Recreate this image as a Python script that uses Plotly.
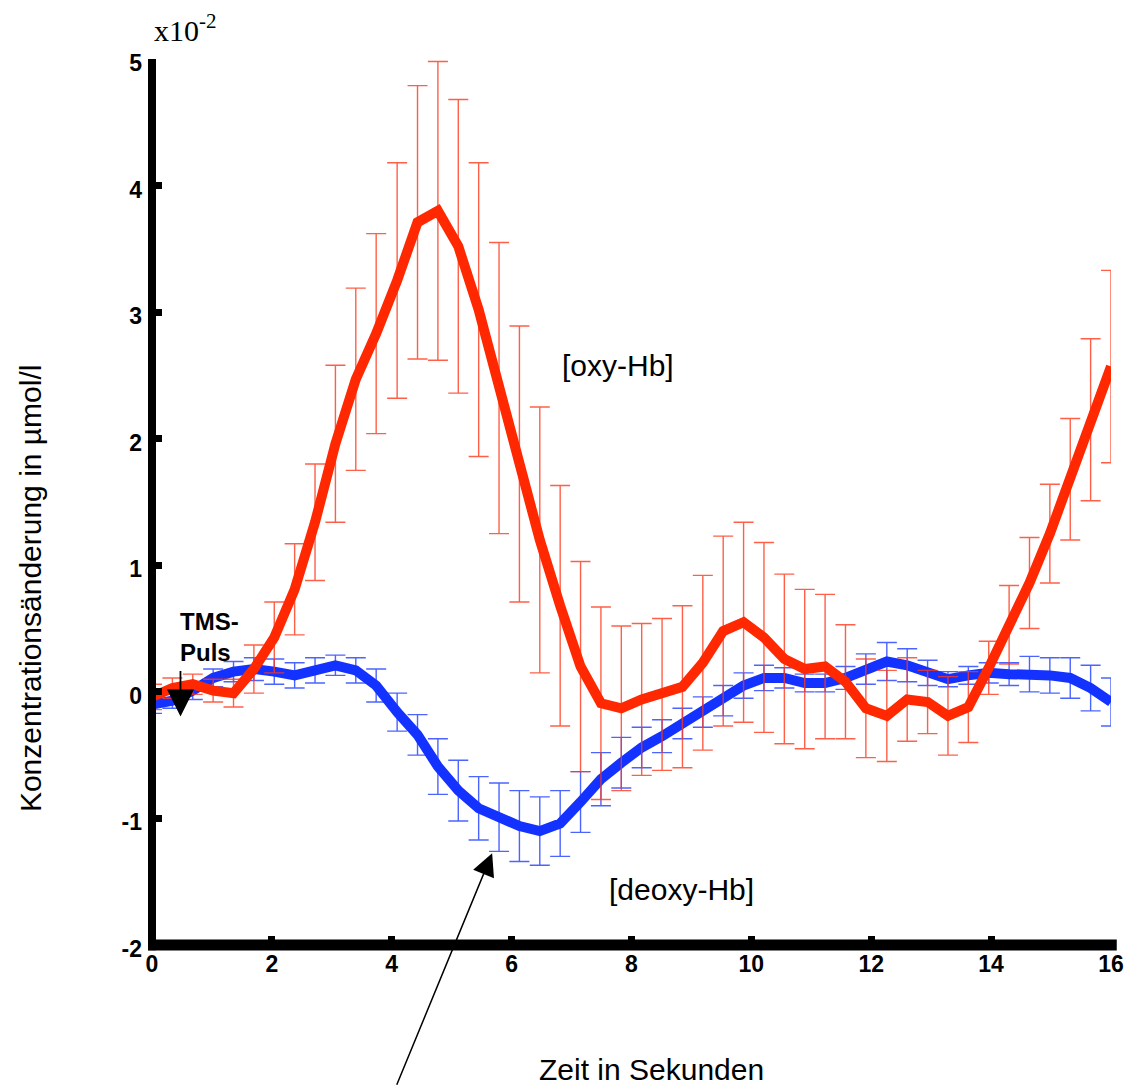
import plotly.graph_objects as go

# sampling times (s)
times = [0.00, 0.34, 0.68, 1.02, 1.36, 1.70, 2.04, 2.38, 2.72, 3.06, 3.40, 3.74,
         4.09, 4.43, 4.77, 5.11, 5.45, 5.79, 6.13, 6.47, 6.81, 7.15, 7.49, 7.83,
         8.17, 8.51, 8.85, 9.19, 9.53, 9.87, 10.21, 10.55, 10.89, 11.23, 11.57, 11.91,
         12.26, 12.60, 12.94, 13.28, 13.62, 13.96, 14.30, 14.64, 14.98, 15.32, 15.66, 16.00]

# [oxy-Hb] (x10^-2 µmol/l)
oxy = [-0.04, 0.03, 0.06, 0.01, -0.01, 0.18, 0.43, 0.81, 1.34, 1.96,
       2.47, 2.83, 3.25, 3.71, 3.80, 3.52, 3.02, 2.40, 1.80, 1.20,
       0.68, 0.20, -0.09, -0.13, -0.06, -0.02, 0.04, 0.23, 0.48, 0.55,
       0.43, 0.26, 0.18, 0.20, 0.08, -0.13, -0.19, -0.06, -0.08, -0.19,
       -0.12, 0.19, 0.53, 0.86, 1.25, 1.68, 2.15, 2.57]
oxy_err = [0.10, 0.08, 0.08, 0.09, 0.11, 0.19, 0.28, 0.36, 0.46, 0.62,
           0.72, 0.79, 0.93, 1.08, 1.18, 1.16, 1.16, 1.15, 1.09, 1.05,
           0.95, 0.83, 0.76, 0.65, 0.60, 0.60, 0.64, 0.69, 0.75, 0.79,
           0.75, 0.67, 0.63, 0.57, 0.45, 0.39, 0.36, 0.33, 0.25, 0.31,
           0.28, 0.21, 0.31, 0.36, 0.39, 0.48, 0.64, 0.76]

# [deoxy-Hb]
deoxy = [-0.10, -0.07, 0.01, 0.11, 0.16, 0.18, 0.16, 0.13, 0.17, 0.21,
         0.17, 0.05, -0.16, -0.34, -0.59, -0.78, -0.92, -0.99, -1.06, -1.10,
         -1.04, -0.87, -0.69, -0.56, -0.44, -0.35, -0.25, -0.16, -0.07, 0.05,
         0.11, 0.11, 0.07, 0.07, 0.11, 0.18, 0.24, 0.21, 0.15, 0.10,
         0.13, 0.15, 0.14, 0.14, 0.13, 0.11, 0.03, -0.08]
deoxy_err = [0.07, 0.06, 0.07, 0.07, 0.08, 0.09, 0.10, 0.10, 0.10, 0.08,
             0.10, 0.13, 0.15, 0.16, 0.22, 0.24, 0.25, 0.27, 0.28, 0.27,
             0.26, 0.24, 0.21, 0.20, 0.16, 0.13, 0.12, 0.12, 0.12, 0.10,
             0.10, 0.08, 0.07, 0.07, 0.09, 0.12, 0.15, 0.13, 0.10, 0.06,
             0.07, 0.08, 0.09, 0.14, 0.14, 0.16, 0.18, 0.19]

x_ticks = [0, 2, 4, 6, 8, 10, 12, 14, 16]
y_ticks = [-2, -1, 0, 1, 2, 3, 4, 5]

RED = "#FF2800"
BLUE = "#1432FF"
SANS = "Liberation Sans"

fig = go.Figure()
fig.add_trace(go.Scatter(
    x=times, y=deoxy, mode="lines",
    line=dict(color=BLUE, width=10),
    error_y=dict(type="data", array=deoxy_err, visible=True,
                 color="rgba(30,60,255,0.8)", thickness=1.4, width=10),
    showlegend=False, cliponaxis=False))
fig.add_trace(go.Scatter(
    x=times, y=oxy, mode="lines",
    line=dict(color=RED, width=10),
    error_y=dict(type="data", array=oxy_err, visible=True,
                 color="rgba(255,55,25,0.8)", thickness=1.4, width=10),
    showlegend=False, cliponaxis=False))

# axis lines drawn as thick black strokes
fig.add_shape(type="line", xref="paper", yref="paper", x0=0, x1=0, y0=-0.006, y1=1,
              line=dict(color="black", width=8), layer="above")
fig.add_shape(type="line", xref="paper", yref="paper", x0=-0.004, x1=1.006, y0=0, y1=0,
              line=dict(color="black", width=11), layer="above")

ann = []
ann.append(dict(x=0.0, y=1.035, xref="x", yref="paper", xanchor="left", yanchor="middle",
                text="x10<sup>-2</sup>", showarrow=False,
                font=dict(family="Liberation Serif", size=30, color="black")))
ann.append(dict(x=7.78, y=2.58, xref="x", yref="y", xanchor="center", yanchor="middle",
                text="[oxy-Hb]", showarrow=False,
                font=dict(family=SANS, size=30, color="black")))
ann.append(dict(x=8.83, y=-1.565, xref="x", yref="y", xanchor="center", yanchor="middle",
                text="[deoxy-Hb]", showarrow=False,
                font=dict(family=SANS, size=30, color="black")))
ann.append(dict(x=8.34, y=-0.140, xref="x", yref="paper", xanchor="center", yanchor="middle",
                text="Zeit in Sekunden",
                showarrow=False, font=dict(family=SANS, size=30, color="black")))
ann.append(dict(x=-0.126, y=0.403, xref="paper", yref="paper", textangle=-90,
                xanchor="center", yanchor="middle",
                text="Konzentrationsänderung in µmol/l", showarrow=False,
                font=dict(family=SANS, size=30, color="black")))
ann.append(dict(x=0.43, y=0.435, xref="x", yref="y", xanchor="left", yanchor="middle",
                text="TMS-<br>Puls", showarrow=False, align="left",
                font=dict(family=SANS, size=24, color="black", weight="bold")))
# TMS pulse arrow
ann.append(dict(x=0.475, y=-0.195, xref="x", yref="y", ax=0, ay=-47, text="",
                showarrow=True, arrowhead=2, arrowsize=3, arrowwidth=1.8, arrowcolor="black"))
# long arrow pointing to deoxy dip
ann.append(dict(x=5.675, y=-1.275, xref="x", yref="y", ax=-96, ay=233, text="",
                showarrow=True, arrowhead=2, arrowsize=3, arrowwidth=1.5, arrowcolor="black"))

fig.update_layout(
    width=1136, height=1088,
    margin=dict(l=152, r=17, t=59, b=143),
    paper_bgcolor="white", plot_bgcolor="white",
    annotations=ann,
    xaxis=dict(range=[0, 16], tickmode="array", tickvals=x_ticks,
               ticktext=[str(v) for v in x_ticks],
               showgrid=False, zeroline=False, showline=False,
               ticks="inside", ticklen=9, tickwidth=7, tickcolor="black",
               tickfont=dict(family=SANS, size=23, color="black", weight="bold"),
               ticklabelstandoff=3),
    yaxis=dict(range=[-2, 5], tickmode="array", tickvals=y_ticks,
               ticktext=[str(v) for v in y_ticks],
               showgrid=False, zeroline=False, showline=False,
               ticks="inside", ticklen=10, tickwidth=7, tickcolor="black",
               tickfont=dict(family=SANS, size=23, color="black", weight="bold"),
               ticklabelstandoff=9, ticklabelshift=4),
)

fig.write_html("out.html")
